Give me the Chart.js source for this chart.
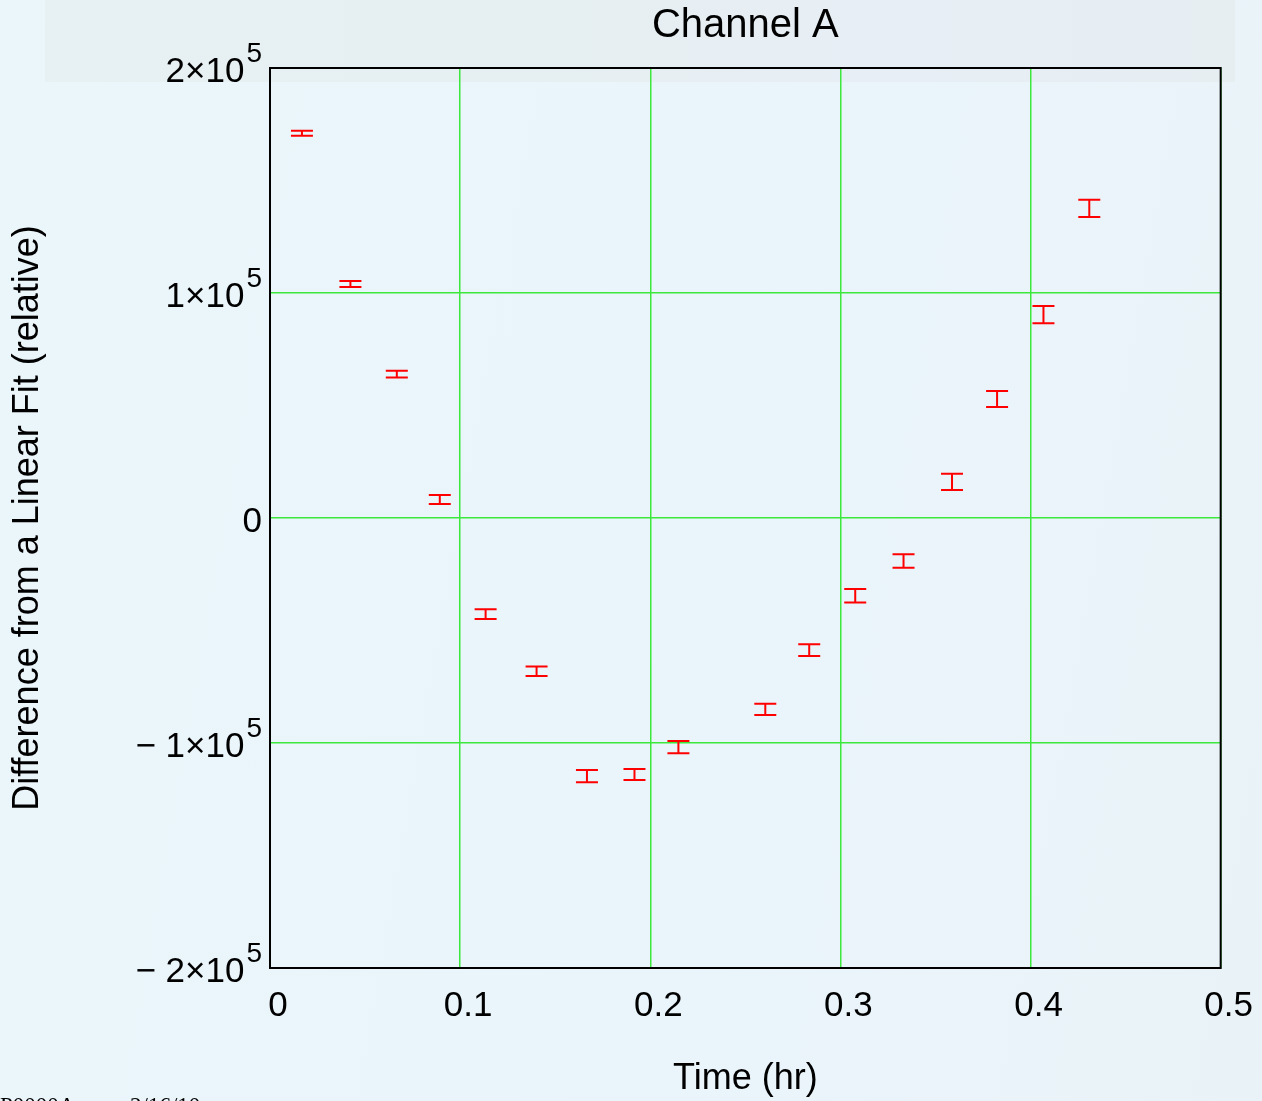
<!DOCTYPE html>
<html>
<head>
<meta charset="utf-8">
<title>Channel A</title>
<script src="https://cdn.jsdelivr.net/npm/chart.js@4.4.1/dist/chart.umd.min.js"></script>
<style>
  html, body { margin: 0; padding: 0; overflow: hidden; }
  body {
    width: 1262px;
    height: 1101px;
    position: relative;
    background: linear-gradient(100deg, #ebf6fb 0%, #eaf5fb 60%, #e9f2f7 100%);
  }
  #band {
    position: absolute; left: 45px; top: 0; width: 1190px; height: 82px;
    background: linear-gradient(90deg, #e7f0f2 0%, #e6eff1 40%, #e7eef5 70%, #e6eef2 100%);
  }
  #chart { position: absolute; left: 0; top: 0; }
  #stamp {
    position: absolute; left: 0; top: 1093px; line-height: 1;
    font: 23px "Liberation Serif", serif; color: #000; white-space: pre;
  }
  #stamp span { position: absolute; top: 0; }
</style>
</head>
<body>
<div id="band"></div>
<canvas id="chart" width="1262" height="1101"></canvas>
<div id="stamp"><span style="left:0">P0000A</span><span style="left:130px">2/16/10</span></div>
<script>
// time of each reading (hr) and its offset from the linear fit
const times = [0.0168, 0.0423, 0.0667, 0.0893, 0.1134, 0.1402, 0.1667, 0.1917, 0.2148,
               0.2605, 0.2836, 0.3078, 0.3332, 0.3587, 0.3824, 0.4068, 0.4309];
const diffs = [171000, 104000, 64000, 8200, -42700, -68100, -114700, -114000, -101800,
               -85000, -58700, -34500, -19100, 16100, 52900, 90400, 137600];
const errors = [1100, 1300, 1500, 2000, 2200, 2100, 2700, 2400, 2700,
                2500, 2600, 3000, 3000, 3600, 3600, 3800, 3800];

const xTicks = [0, 0.1, 0.2, 0.3, 0.4, 0.5];
const yTicks = [-200000, -100000, 0, 100000, 200000];

const FONT = '"Liberation Sans", Arial, Helvetica, sans-serif';

// vertical error bars with caps, centred on each point
const errorBars = {
  id: 'errorBars',
  afterDatasetsDraw(chart) {
    const { ctx, scales: { y } } = chart;
    const pts = chart.getDatasetMeta(0).data;
    ctx.save();
    ctx.strokeStyle = '#ff0000';
    ctx.lineWidth = 2;
    pts.forEach((p, i) => {
      const top = y.getPixelForValue(diffs[i] + errors[i]);
      const bot = y.getPixelForValue(diffs[i] - errors[i]);
      ctx.beginPath();
      ctx.moveTo(p.x, top); ctx.lineTo(p.x, bot);
      ctx.moveTo(p.x - 11, top); ctx.lineTo(p.x + 11, top);
      ctx.moveTo(p.x - 11, bot); ctx.lineTo(p.x + 11, bot);
      ctx.stroke();
    });
    ctx.restore();
  }
};

// black frame around the whole plot area
const frame = {
  id: 'frame',
  afterDraw(chart) {
    const { ctx, chartArea: a } = chart;
    ctx.save();
    ctx.strokeStyle = '#000';
    ctx.lineWidth = 2;
    ctx.strokeRect(a.left, a.top, a.right - a.left, a.bottom - a.top);
    ctx.restore();
  }
};

// y tick labels written as m×10 with a raised exponent
const powerLabels = {
  id: 'powerLabels',
  afterDraw(chart) {
    const { ctx, scales: { y } } = chart;
    const right = y.right - 8;
    ctx.save();
    ctx.fillStyle = '#000';
    ctx.textAlign = 'right';
    ctx.textBaseline = 'alphabetic';
    y.ticks.forEach(t => {
      const base = y.getPixelForValue(t.value) + 14;
      if (t.value === 0) {
        ctx.font = '35px ' + FONT;
        ctx.fillText('0', right, base);
        return;
      }
      const m = Math.abs(t.value) / 1e5;
      const sign = t.value < 0 ? '\u2212 ' : '';
      ctx.font = '28px ' + FONT;
      const expW = ctx.measureText('5').width;
      ctx.fillText('5', right, base - 20);
      ctx.font = '35px ' + FONT;
      ctx.fillText(sign + m + '\u00d710', right - expW - 2, base);
    });
    ctx.restore();
  }
};

new Chart(document.getElementById('chart'), {
  type: 'scatter',
  data: {
    datasets: [{
      data: times.map((t, i) => ({ x: t, y: diffs[i] })),
      pointRadius: 0,
      showLine: false
    }]
  },
  plugins: [errorBars, frame, powerLabels],
  options: {
    responsive: false,
    animation: false,
    events: [],
    layout: { padding: { left: 0, right: 39, top: 0, bottom: 0 } },
    plugins: {
      legend: { display: false },
      tooltip: { enabled: false },
      title: {
        display: true,
        text: 'Channel A',
        fullSize: false,
        color: '#000',
        font: { family: FONT, size: 40, weight: 'normal', lineHeight: 1.2 },
        padding: { top: 2, bottom: 18 }
      }
    },
    scales: {
      x: {
        type: 'linear',
        min: 0,
        max: 0.5,
        afterBuildTicks: s => { s.ticks = xTicks.map(v => ({ value: v })); },
        afterFit: s => { s.height = 133; },
        grid: { color: '#3de83d', lineWidth: 1.5, drawTicks: false },
        border: { display: false },
        ticks: {
          color: '#000',
          padding: 17,
          labelOffset: 8,
          maxRotation: 0,
          font: { family: FONT, size: 35 },
          callback: v => String(v)
        },
        title: {
          display: true,
          text: 'Time (hr)',
          color: '#000',
          font: { family: FONT, size: 36, lineHeight: 1.2 },
          padding: { top: 0, bottom: 0 }
        }
      },
      y: {
        type: 'linear',
        min: -200000,
        max: 200000,
        afterBuildTicks: s => { s.ticks = yTicks.map(v => ({ value: v })); },
        afterFit: s => { s.width = 270; },
        grid: { color: '#3de83d', lineWidth: 1.5, drawTicks: false },
        border: { display: false },
        ticks: { display: false },
        title: {
          display: true,
          text: 'Difference from a Linear Fit (relative)',
          color: '#000',
          font: { family: FONT, size: 36, lineHeight: 1.2 },
          padding: { top: 6, bottom: 0 }
        }
      }
    }
  }
});
</script>
</body>
</html>
